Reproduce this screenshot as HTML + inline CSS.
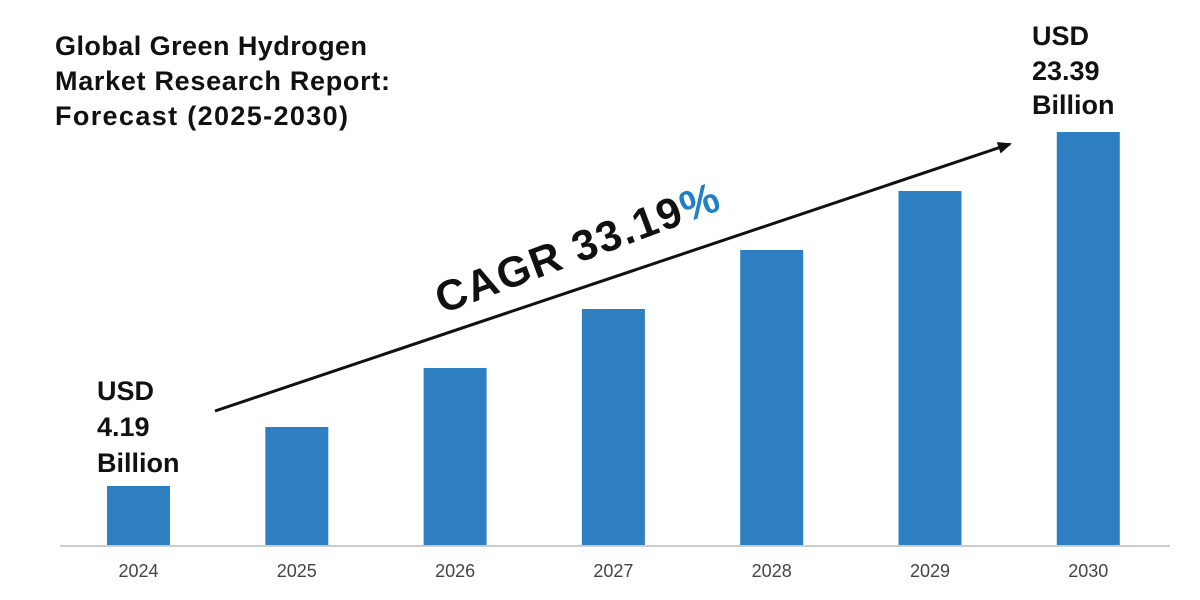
<!DOCTYPE html>
<html><head><meta charset="utf-8"><style>
html,body{margin:0;padding:0;background:#fff;}
svg{display:block;font-family:"Liberation Sans",sans-serif;}
</style></head><body>
<svg id="chart" width="1200" height="600" viewBox="0 0 1200 600">
  <g font-size="27" font-weight="bold" fill="#111">
    <text x="55" y="55" textLength="312">Global Green Hydrogen</text>
    <text x="55" y="90" textLength="335">Market Research Report:</text>
    <text x="55" y="125" textLength="293">Forecast (2025-2030)</text>
  </g>
  <line x1="60" y1="546" x2="1170" y2="546" stroke="#bbb" stroke-width="1.5"/>
  <g id="bars"></g>
  <g id="xlabels"></g>
  <defs><marker id="ah" markerWidth="14" markerHeight="12" refX="12" refY="6" orient="auto" markerUnits="userSpaceOnUse"><path d="M0,0 L14,6 L0,12 z" fill="#111"/></marker></defs>
  <line x1="215" y1="411" x2="1010" y2="144" stroke="#111" stroke-width="3" marker-end="url(#ah)"/>
  <text transform="translate(442,314) rotate(-20.5)" font-size="43" font-weight="bold" fill="#111" letter-spacing="1.5">CAGR 33.19<tspan fill="#1f7fc8">%</tspan></text>
  <g font-size="27" font-weight="bold" fill="#111">
    <text x="97" y="400">USD</text><text x="97" y="436">4.19</text><text x="97" y="472">Billion</text>
  </g>
  <g font-size="27" font-weight="bold" fill="#111">
    <text x="1032" y="45">USD</text><text x="1032" y="80">23.39</text><text x="1032" y="114">Billion</text>
  </g>
</svg>
<script>
const years = ["2024","2025","2026","2027","2028","2029","2030"];
const values = [4.19, 7.39, 10.59, 13.79, 16.99, 20.19, 23.39];
const ns = "http://www.w3.org/2000/svg";
const baseY = 545, vMin = 4.19, vMax = 23.39, hMin = 59, hMax = 413;
function yScale(v){ return baseY - (hMin + (v - vMin) * (hMax - hMin) / (vMax - vMin)); }
function xCenter(i){ return 138.5 + i * 158.3; }
const barW = 63;
const bars = document.getElementById('bars'), xl = document.getElementById('xlabels');
values.forEach((v,i)=>{
  const r = document.createElementNS(ns,'rect');
  
  
  const y = yScale(v);
  r.setAttribute('x', xCenter(i) - barW/2); r.setAttribute('y', y);
  r.setAttribute('width', barW); r.setAttribute('height', baseY - y);
  r.setAttribute('fill', '#2e7fc2');
  bars.appendChild(r);
  const t = document.createElementNS(ns,'text');
  
  
  t.setAttribute('x', xCenter(i)); t.setAttribute('y', 577);
  t.setAttribute('text-anchor', 'middle'); t.setAttribute('font-size', '18'); t.setAttribute('fill', '#444');
  t.textContent = years[i];
  xl.appendChild(t);
});
</script>
</body></html>
